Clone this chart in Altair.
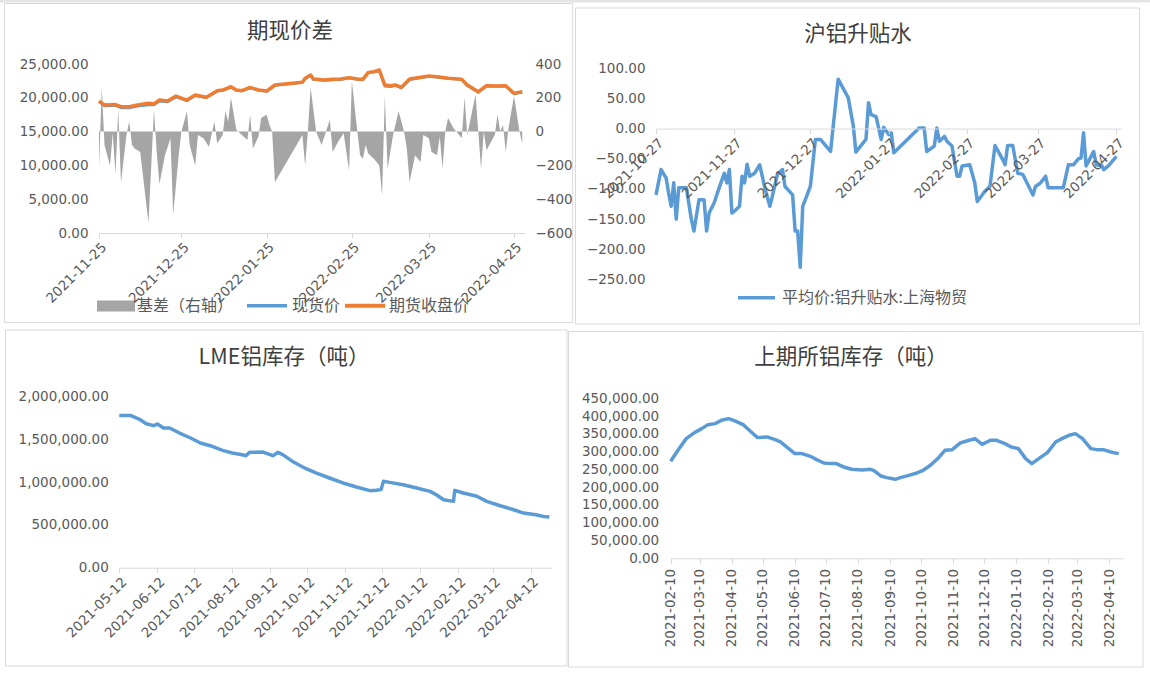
import altair as alt
import pandas as pd

# ---------------- data ----------------
basis_dates = [
    "2021-11-25", "2021-11-26", "2021-11-27", "2021-11-29", "2021-11-30",
    "2021-12-01", "2021-12-02", "2021-12-03", "2021-12-05", "2021-12-06", "2021-12-07", "2021-12-08",
    "2021-12-10", "2021-12-13", "2021-12-15", "2021-12-16", "2021-12-17", "2021-12-19", "2021-12-21",
    "2021-12-22", "2021-12-24", "2021-12-25", "2021-12-27", "2021-12-28", "2021-12-30", "2021-12-31",
    "2022-01-02", "2022-01-04", "2022-01-06", "2022-01-07", "2022-01-09", "2022-01-10", "2022-01-11",
    "2022-01-12", "2022-01-14", "2022-01-16", "2022-01-18", "2022-01-19", "2022-01-20", "2022-01-22",
    "2022-01-23", "2022-01-25", "2022-01-26", "2022-01-27", "2022-01-28",
    "2022-02-07", "2022-02-08", "2022-02-09", "2022-02-10", "2022-02-12", "2022-02-14", "2022-02-17",
    "2022-02-18", "2022-02-20", "2022-02-22", "2022-02-24", "2022-02-25", "2022-02-27", "2022-02-28",
    "2022-03-01", "2022-03-02", "2022-03-03", "2022-03-05", "2022-03-07", "2022-03-08", "2022-03-09",
    "2022-03-10", "2022-03-12", "2022-03-14", "2022-03-16", "2022-03-17", "2022-03-18", "2022-03-20",
    "2022-03-22", "2022-03-23", "2022-03-25", "2022-03-26", "2022-03-28", "2022-03-29", "2022-03-30",
    "2022-03-31",
    "2022-04-01", "2022-04-03", "2022-04-06", "2022-04-07", "2022-04-08", "2022-04-11", "2022-04-12",
    "2022-04-13", "2022-04-14", "2022-04-15", "2022-04-18", "2022-04-19", "2022-04-20", "2022-04-21",
    "2022-04-22", "2022-04-23", "2022-04-25", "2022-04-27", "2022-04-28",
]
basis_values = [
    -220, 260, -80, -200, -10,
    -250, 130, -300, -20, 60, -80, -100,
    -120, -540, 130, -120, -310, -140, -40,
    -490, -140, 0, 120, -80, -200, -20,
    -40, -90, 60, -70, -20, 120, 60,
    200, 10, -20, -50, 100, -100, -30,
    80, 100, 40, 0, -300,
    -20, -200, 0, 260, 0, -80, 70,
    -120, -60, -10, -230, 300, 0, -140,
    -160, -80, -130, -160, -200, -380, 210,
    -220, -20, 120, 0, -100, -300, -140,
    -180, -20, -40, -120, -140, -30, -220,
    0,
    80, 20, -40, 200, -20, 220, 0,
    -220, 0, -110, -20, 100, 0, 40,
    -120, 20, 210, 0, -70,
]

price_dates = [
    "2021-11-25", "2021-11-27",
    "2021-12-01", "2021-12-03", "2021-12-06", "2021-12-09", "2021-12-13", "2021-12-15", "2021-12-17",
    "2021-12-20", "2021-12-23", "2021-12-27", "2021-12-30",
    "2022-01-03", "2022-01-04", "2022-01-07", "2022-01-09", "2022-01-12", "2022-01-14", "2022-01-16",
    "2022-01-19", "2022-01-22", "2022-01-25", "2022-01-28",
    "2022-02-07", "2022-02-08", "2022-02-10", "2022-02-11", "2022-02-15", "2022-02-18", "2022-02-21",
    "2022-02-24", "2022-02-27",
    "2022-03-01", "2022-03-03", "2022-03-05", "2022-03-07", "2022-03-09", "2022-03-11", "2022-03-13",
    "2022-03-15", "2022-03-18", "2022-03-21", "2022-03-25", "2022-03-28",
    "2022-04-01", "2022-04-06", "2022-04-08", "2022-04-12", "2022-04-15", "2022-04-19", "2022-04-22",
    "2022-04-25", "2022-04-28",
]
futures_values = [
    19500, 18930,
    19000, 18680, 18680, 18930, 19180, 19080, 19670,
    19530, 20260, 19670, 20410,
    20070, 20310, 21050, 21150, 21640, 21150, 21050,
    21540, 21150, 21000, 21890,
    22290, 22880, 23370, 22780, 22630, 22730, 22780,
    22980, 22780,
    22730, 23760, 23860, 24110, 21890, 21790, 21890,
    21540, 22780, 22980, 23220, 23120,
    22880, 22730, 21890, 20900, 21790, 21740, 21790,
    20660, 20900,
]
spot_values = [
    19420, 18800,
    18850, 18500, 18480, 18750, 18950, 18950, 19500,
    19380, 20100, 19550, 20300,
    20000, 20250, 20950, 21080, 21550, 21100, 21000,
    21450, 21100, 20950, 21800,
    22250, 22800, 23300, 22700, 22550, 22650, 22700,
    22950, 22700,
    22650, 23700, 23800, 24000, 21700, 21650, 21800,
    21450, 22650, 22900, 23150, 23050,
    22850, 22700, 21800, 20800, 21700, 21700, 21750,
    20550, 20850,
]

premium_dates = [
    "2021-10-27", "2021-10-29", "2021-10-31",
    "2021-11-01", "2021-11-02", "2021-11-03", "2021-11-04", "2021-11-05", "2021-11-08", "2021-11-10",
    "2021-11-11", "2021-11-13", "2021-11-15", "2021-11-16", "2021-11-17", "2021-11-19", "2021-11-21",
    "2021-11-23", "2021-11-24", "2021-11-25", "2021-11-26", "2021-11-27", "2021-11-29", "2021-11-30",
    "2021-12-01", "2021-12-02", "2021-12-03", "2021-12-05", "2021-12-07", "2021-12-09", "2021-12-11",
    "2021-12-12", "2021-12-14", "2021-12-16", "2021-12-17", "2021-12-20", "2021-12-21", "2021-12-22",
    "2021-12-23", "2021-12-24", "2021-12-26", "2021-12-27", "2021-12-29", "2021-12-31",
    "2022-01-04", "2022-01-07", "2022-01-11", "2022-01-13", "2022-01-14", "2022-01-18", "2022-01-19",
    "2022-01-20", "2022-01-22", "2022-01-24", "2022-01-25", "2022-01-27", "2022-01-28", "2022-01-29",
    "2022-02-08", "2022-02-10", "2022-02-11", "2022-02-14", "2022-02-15", "2022-02-16", "2022-02-18",
    "2022-02-19", "2022-02-21", "2022-02-23", "2022-02-24", "2022-02-25", "2022-02-28",
    "2022-03-02", "2022-03-03", "2022-03-06", "2022-03-08", "2022-03-10", "2022-03-13", "2022-03-14",
    "2022-03-15", "2022-03-17", "2022-03-19", "2022-03-21", "2022-03-23", "2022-03-25", "2022-03-26",
    "2022-03-28", "2022-03-30", "2022-03-31",
    "2022-04-06", "2022-04-08", "2022-04-10", "2022-04-12", "2022-04-13", "2022-04-14", "2022-04-15",
    "2022-04-17", "2022-04-18", "2022-04-19", "2022-04-20", "2022-04-21", "2022-04-22", "2022-04-24",
    "2022-04-26", "2022-04-27",
]
premium_values = [
    -110, -68, -82,
    -107, -129, -90, -150, -98, -98, -151,
    -170, -118, -118, -170, -140, -123, -98,
    -74, -90, -68, -140, -137, -129, -79,
    -90, -59, -79, -74, -60, -98, -129,
    -112, -76, -68, -96, -110, -170, -170,
    -230, -129, -107, -96, -18, -18,
    -38, 82, 51, 4, -39, -18, 43,
    23, 20, -18, 2, -10, -7, -40,
    1, 1, -38, -29, 1, -21, -13,
    -21, -29, -79, -79, -62, -60,
    -90, -121, -104, -96, -28, -51, -60,
    -28, -28, -74, -76, -93, -110, -96,
    -90, -79, -98,
    -98, -60, -60, -50, -49, -7, -62,
    -46, -38, -60, -61, -60, -68, -61,
    -51, -46,
]

lme_dates = [
    "2021-05-12", "2021-05-21", "2021-05-29", "2021-06-03", "2021-06-09", "2021-06-12", "2021-06-17",
    "2021-06-22", "2021-06-30", "2021-07-09", "2021-07-17", "2021-07-25", "2021-08-04", "2021-08-12",
    "2021-08-21", "2021-08-23", "2021-08-26", "2021-09-06", "2021-09-14", "2021-09-18", "2021-09-22",
    "2021-09-30", "2021-10-11", "2021-10-19", "2021-10-30", "2021-11-10", "2021-11-21", "2021-12-02",
    "2021-12-07", "2021-12-11", "2021-12-13", "2021-12-18", "2021-12-29", "2022-01-09", "2022-01-20",
    "2022-01-25", "2022-01-31", "2022-02-08", "2022-02-09", "2022-02-16", "2022-02-27", "2022-03-07",
    "2022-03-18", "2022-03-29", "2022-04-06", "2022-04-16", "2022-04-22", "2022-04-27",
]
lme_values = [
    1781000, 1781000, 1731000, 1684000, 1661000, 1680000, 1634000,
    1634000, 1575000, 1517000, 1458000, 1427000, 1372000, 1341000,
    1318000, 1310000, 1349000, 1353000, 1310000, 1349000, 1322000,
    1243000, 1158000, 1108000, 1049000, 991000, 944000, 901000,
    905000, 913000, 1010000, 998000, 971000, 932000, 893000,
    854000, 795000, 776000, 905000, 874000, 835000, 776000,
    725000, 678000, 639000, 620000, 600000, 592000,
]

shfe_dates = [
    "2021-02-10", "2021-02-17", "2021-02-25", "2021-03-05", "2021-03-12", "2021-03-18", "2021-03-25",
    "2021-03-31", "2021-04-07", "2021-04-13", "2021-04-21", "2021-04-28", "2021-05-05", "2021-05-14",
    "2021-05-22", "2021-05-27", "2021-06-02", "2021-06-10", "2021-06-17", "2021-06-25", "2021-07-01",
    "2021-07-08", "2021-07-14", "2021-07-20", "2021-07-27", "2021-08-04", "2021-08-14", "2021-08-22",
    "2021-08-25", "2021-09-01", "2021-09-07", "2021-09-15", "2021-09-20", "2021-09-28", "2021-10-06",
    "2021-10-12", "2021-10-19", "2021-10-27", "2021-11-02", "2021-11-09", "2021-11-17", "2021-11-23",
    "2021-12-01", "2021-12-08", "2021-12-16", "2021-12-22", "2021-12-30", "2022-01-05", "2022-01-12",
    "2022-01-19", "2022-01-25", "2022-02-02", "2022-02-09", "2022-02-17", "2022-02-23", "2022-03-02",
    "2022-03-08", "2022-03-15", "2022-03-23", "2022-03-29", "2022-04-04", "2022-04-11", "2022-04-19",
]
shfe_values = [
    272800, 303750, 336600, 353400, 364700, 375900, 378800,
    388100, 392800, 386300, 375900, 357200, 339400, 341300,
    333800, 327200, 313100, 294400, 294400, 286900, 277500,
    268100, 266300, 266300, 256900, 250300, 248400, 250300,
    247500, 231600, 226900, 222200, 226900, 233400, 240000,
    247500, 261600, 283100, 303750, 305600, 324400, 330000,
    336600, 320600, 331900, 331900, 322500, 313100, 308400,
    280300, 266300, 283100, 297200, 327200, 336600, 345900,
    350600, 336600, 308400, 305600, 305600, 299100, 294400,
]

p1_x_ticks = ["2021-11-25", "2021-12-25", "2022-01-25", "2022-02-25", "2022-03-25", "2022-04-25"]
p2_x_ticks = ["2021-10-27", "2021-11-27", "2021-12-27", "2022-01-27", "2022-02-27", "2022-03-27", "2022-04-27"]
p3_x_ticks = ["2021-05-12", "2021-06-12", "2021-07-12", "2021-08-12", "2021-09-12", "2021-10-12",
              "2021-11-12", "2021-12-12", "2022-01-12", "2022-02-12", "2022-03-12", "2022-04-12"]
p4_x_ticks = ["2021-02-10", "2021-03-10", "2021-04-10", "2021-05-10", "2021-06-10", "2021-07-10",
              "2021-08-10", "2021-09-10", "2021-10-10", "2021-11-10", "2021-12-10", "2022-01-10",
              "2022-02-10", "2022-03-10", "2022-04-10"]
p1_left_ticks = [0, 5000, 10000, 15000, 20000, 25000]
p1_right_ticks = [-600, -400, -200, 0, 200, 400]
p2_y_ticks = [-250, -200, -150, -100, -50, 0, 50, 100]
p3_y_ticks = [0, 500000, 1000000, 1500000, 2000000]
p4_y_ticks = [0, 50000, 100000, 150000, 200000, 250000, 300000, 350000, 400000, 450000]

titles = ["期现价差", "沪铝升贴水", "LME铝库存（吨）", "上期所铝库存（吨）"]
p1_legend = ["基差（右轴）", "现货价", "期货收盘价"]
p2_legend = "平均价:铝升贴水:上海物贸"

# ---------------- styling / layout ----------------
W, H = 1150, 675
NUM_FONT = "DejaVu Sans"
CJK_FONT = "Noto Sans CJK SC"
LABEL_COLOR = "#595959"
TITLE_COLOR = "#404040"
AXIS_LINE = "#D9D9D9"
BOX_LINE = "#D9D9D9"
BLUE = "#5B9BD5"
ORANGE = "#ED7D31"
GRAY = "#A5A5A5"
LABEL_SIZE = 13.5


def dt(s):
    y, m, d = (int(v) for v in s.split("-"))
    return alt.DateTime(year=y, month=m, date=d, utc=True)


def x_axis(ticks, axis_y, angle=-45, pad=2):
    return alt.Axis(
        orient="bottom", offset=axis_y - H, values=[dt(v) for v in ticks],
        format="%Y-%m-%d", labelAngle=angle, domain=True, domainColor=AXIS_LINE,
        domainWidth=1, ticks=True, tickColor=AXIS_LINE, tickSize=5, tickWidth=1,
        labelFont=NUM_FONT, labelFontSize=LABEL_SIZE, labelColor=LABEL_COLOR,
        labelPadding=pad, labelOverlap=False, grid=False, zindex=1,
    )


def y_axis(ticks, axis_x, fmt, orient="left", pad=11):
    off = -axis_x if orient == "left" else axis_x - W
    return alt.Axis(
        orient=orient, offset=off, values=ticks, format=fmt, domain=False,
        ticks=False, tickSize=0, labelFont=NUM_FONT, labelFontSize=LABEL_SIZE,
        labelColor=LABEL_COLOR, labelPadding=pad, labelOverlap=False, grid=False, zindex=1,
    )


def xs(field, start, end, rng, axis):
    return alt.X(field, title=None,
                 scale=alt.Scale(type="utc", domain=[dt(start), dt(end)], range=rng, nice=False),
                 axis=axis)


def ys(field, domain, rng, axis):
    return alt.Y(field, title=None,
                 scale=alt.Scale(domain=domain, range=rng, nice=False, zero=False),
                 axis=axis)


one = pd.DataFrame({"k": [0]})


def box(x1, x2, y1, y2):
    return alt.Chart(one).mark_rect(fillOpacity=0, stroke=BOX_LINE, strokeWidth=1).encode(
        x=alt.value(x1), x2=alt.value(x2), y=alt.value(y1), y2=alt.value(y2))


def text(t, x, y, size, color, align="center"):
    return alt.Chart(one).mark_text(
        font=CJK_FONT, fontSize=size, color=color, align=align, baseline="middle"
    ).encode(x=alt.value(x), y=alt.value(y), text=alt.value(t))


def legend_line(x1, x2, y, color, width):
    return alt.Chart(one).mark_rule(color=color, strokeWidth=width).encode(
        x=alt.value(x1), x2=alt.value(x2), y=alt.value(y))


# ---------------- panel 1 : 期现价差 ----------------
basis_df = pd.DataFrame({"date": basis_dates, "basis": basis_values})
price_df = pd.DataFrame({"date": price_dates, "spot": spot_values, "futures": futures_values})

P1_X = (99, 525)
P1_Y = (233, 64)
p1_area = alt.Chart(basis_df).mark_area(color=GRAY, opacity=1).encode(
    x=xs("date:T", "2021-11-25", "2022-04-29", list(P1_X), x_axis(p1_x_ticks, P1_Y[0])),
    y=ys("basis:Q", [-600, 400], list(P1_Y), y_axis(p1_right_ticks, 527, "d", orient="right", pad=8)),
)
p1_spot = alt.Chart(price_df).mark_line(color=BLUE, strokeWidth=2.5, strokeJoin="round").encode(
    x=xs("date:T", "2021-11-25", "2022-04-29", list(P1_X), None),
    y=ys("spot:Q", [0, 25000], list(P1_Y), y_axis(p1_left_ticks, 99, ",.2f", pad=11)),
)
p1_fut = alt.Chart(price_df).mark_line(color=ORANGE, strokeWidth=3.5, strokeJoin="round").encode(
    x=xs("date:T", "2021-11-25", "2022-04-29", list(P1_X), None),
    y=ys("futures:Q", [0, 25000], list(P1_Y), None),
)

# ---------------- panel 2 : 沪铝升贴水 ----------------
prem_df = pd.DataFrame({"date": premium_dates, "premium": premium_values})
P2_Y = (279.3, 68.3)
p2_zero = P2_Y[0] - (P2_Y[0] - P2_Y[1]) * 250 / 350
p2_line = alt.Chart(prem_df).mark_line(color=BLUE, strokeWidth=3.5, strokeJoin="round").encode(
    x=xs("date:T", "2021-10-27", "2022-04-29", [656, 1121.5], x_axis(p2_x_ticks, p2_zero)),
    y=ys("premium:Q", [-250, 100], list(P2_Y), y_axis(p2_y_ticks, 656, ",.2f", pad=11)),
)

# ---------------- panel 3 : LME铝库存 ----------------
lme_df = pd.DataFrame({"date": lme_dates, "stock": lme_values})
P3_Y = (567.7, 396.7)
p3_line = alt.Chart(lme_df).mark_line(color=BLUE, strokeWidth=3.5, strokeJoin="round").encode(
    x=xs("date:T", "2021-05-12", "2022-04-29", [119.3, 551.8], x_axis(p3_x_ticks, P3_Y[0])),
    y=ys("stock:Q", [0, 2000000], list(P3_Y), y_axis(p3_y_ticks, 119.3, ",.2f", pad=11)),
)

# ---------------- panel 4 : 上期所铝库存 ----------------
shfe_df = pd.DataFrame({"date": shfe_dates, "stock": shfe_values})
P4_Y = (558.3, 398.3)
p4_line = alt.Chart(shfe_df).mark_line(color=BLUE, strokeWidth=3.5, strokeJoin="round").encode(
    x=xs("date:T", "2021-02-10", "2022-04-23", [670.7, 1122.9],
         x_axis(p4_x_ticks, P4_Y[0], angle=-90, pad=5)),
    y=ys("stock:Q", [0, 450000], list(P4_Y), y_axis(p4_y_ticks, 670.7, ",.2f", pad=12)),
)

# ---------------- decorations ----------------
top_strip = alt.Chart(one).mark_rect(fill="#E4E4E4").encode(
    x=alt.value(0), x2=alt.value(W), y=alt.value(0), y2=alt.value(2.5))
boxes = [
    box(4.5, 572.7, 3.5, 322.5),
    box(575.5, 1139.5, 8, 324),
    box(5.5, 567, 330, 666),
    box(568.5, 1143, 331.5, 667),
]
title_marks = [
    text(titles[0], 290, 31.5, 21.5, TITLE_COLOR),
    text(titles[1], 858, 35, 21.5, TITLE_COLOR),
    text(titles[2], 284, 357.5, 21.5, TITLE_COLOR),
    text(titles[3], 851, 358, 21.5, TITLE_COLOR),
]
legend_marks = [
    alt.Chart(one).mark_rect(fill=GRAY).encode(
        x=alt.value(97), x2=alt.value(135), y=alt.value(300.5), y2=alt.value(311.5)),
    text(p1_legend[0], 137, 306, 16, LABEL_COLOR, align="left"),
    legend_line(247, 287, 305.7, BLUE, 3.5),
    text(p1_legend[1], 292, 306, 16, LABEL_COLOR, align="left"),
    legend_line(345, 385, 305.7, ORANGE, 4),
    text(p1_legend[2], 389, 306, 16, LABEL_COLOR, align="left"),
    legend_line(738, 775, 297.7, BLUE, 3.5),
    text(p2_legend, 782, 298, 16, LABEL_COLOR, align="left"),
]

chart = alt.layer(
    top_strip, *boxes, *legend_marks,
    p1_area, p1_spot, p1_fut, p2_line, p3_line, p4_line,
    *title_marks,
).resolve_scale(
    x="independent", y="independent"
).resolve_axis(
    x="independent", y="independent"
).properties(
    width=W, height=H, padding=0, autosize=alt.AutoSizeParams(type="none"),
    background="white",
).configure_view(stroke=None)

chart.save("out.html", embed_options={"renderer": "svg", "actions": False})
